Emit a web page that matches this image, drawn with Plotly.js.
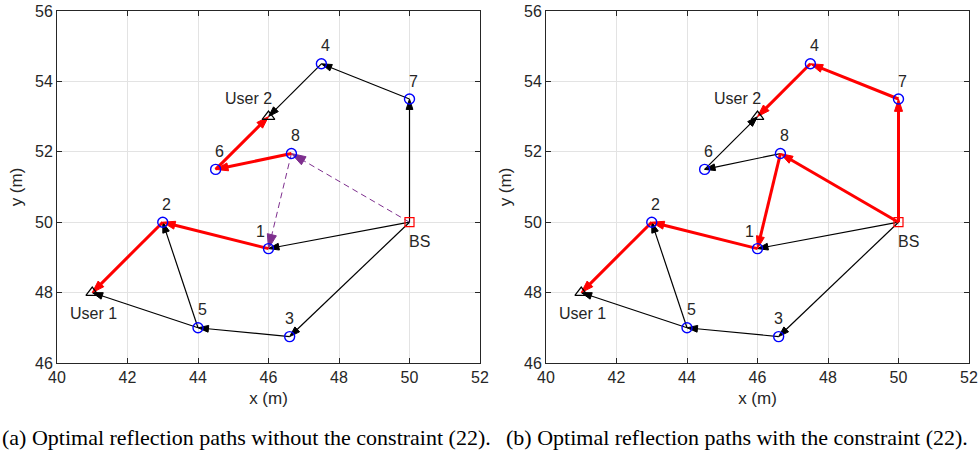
<!DOCTYPE html>
<html>
<head>
<meta charset="utf-8">
<script src="https://cdn.plot.ly/plotly-3.0.1.min.js"></script>
<style>html,body{margin:0;padding:0;background:#fff;}#chart{width:979px;height:452px;}</style>
</head>
<body>
<div id="chart"></div>
<script>
// ---- data ----
const nodeIds = ['1', '2', '3', '4', '5', '6', '7', '8'];
const nodeX = [46, 43, 46.6, 47.5, 44, 44.5, 50, 46.65];
const nodeY = [49.25, 50, 46.75, 54.5, 47, 51.5, 53.5, 51.95];
const bsX = [50];
const bsY = [50];
const userIds = ['U1', 'U2'];
const userNames = ['User 1', 'User 2'];
const userX = [41, 46];
const userY = [48, 53];

// segments (from -> to)
const segFrom = ['BS', '1', '2', 'BS', '3', '5', '5', 'BS', '7', '4', '8', '6', 'BS', '8'];
const segTo   = ['1', '2', 'U1', '3', '5', 'U1', '2', '7', '4', 'U2', '6', 'U2', '8', '1'];
// k = black path, r = optimal (red), d = dashed purple
const styleA = ['k', 'r', 'r', 'k', 'k', 'k', 'k', 'k', 'k', 'k', 'r', 'r', 'd', 'd'];
const styleB = ['k', 'r', 'r', 'k', 'k', 'k', 'k', 'r', 'r', 'r', 'k', 'k', 'r', 'r'];

const xTicks = [40, 42, 44, 46, 48, 50, 52];
const yTicks = [46, 48, 50, 52, 54, 56];
const captions = ['(a) Optimal reflection paths without the constraint (22).',
                  '(b) Optimal reflection paths with the constraint (22).'];

// ---- helpers ----
function pos(id) {
  if (id === 'BS') return [bsX[0], bsY[0]];
  let i = nodeIds.indexOf(id);
  if (i >= 0) return [nodeX[i], nodeY[i]];
  i = userIds.indexOf(id);
  return [userX[i], userY[i]];
}
const STY = {
  k: {color: '#000000', width: 1.2, dash: 'solid', head: 11},
  r: {color: '#ff0000', width: 3, dash: 'solid', head: 13},
  d: {color: '#7E2F8E', width: 1, dash: '6px,4px', head: 15}
};
const FONT = 'Liberation Sans, Arial, Helvetica, sans-serif';
const TXT = '#262626';

const traces = [];
const annotations = [];

function buildPanel(styles, xa, ya) {
  const xr = xa;
  const yr = ya;
  ['k', 'd', 'r'].forEach(function (kind) {
    for (let i = 0; i < segFrom.length; i++) {
      if (styles[i] !== kind) continue;
      const a = pos(segFrom[i]), b = pos(segTo[i]);
      const s = STY[kind];
      traces.push({
        type: 'scatter', mode: 'lines+markers', xaxis: xr, yaxis: yr,
        x: [a[0], b[0]], y: [a[1], b[1]],
        line: {color: s.color, width: s.width, dash: s.dash},
        marker: {symbol: ['circle', 'arrow'], size: [0, s.head], color: s.color, opacity: 1,
                 angleref: 'previous', line: {width: [0, 1], color: s.color}},
        hoverinfo: 'skip', showlegend: false
      });
    }
  });
  traces.push({
    type: 'scatter', mode: 'markers', xaxis: xr, yaxis: yr,
    x: nodeX, y: nodeY,
    marker: {symbol: 'circle-open', size: 10, color: '#0000ff', line: {width: 1.4}},
    hoverinfo: 'skip', showlegend: false
  });
  traces.push({
    type: 'scatter', mode: 'markers', xaxis: xr, yaxis: yr,
    x: bsX, y: bsY,
    marker: {symbol: 'square-open', size: 9, color: '#ff0000', line: {width: 1.2}},
    hoverinfo: 'skip', showlegend: false
  });
  traces.push({
    type: 'scatter', mode: 'markers', xaxis: xr, yaxis: yr,
    x: userX, y: userY,
    marker: {symbol: 'triangle-up-open', size: 11, color: '#000000', line: {width: 1.2}},
    hoverinfo: 'skip', showlegend: false
  });
  const shifts = {'1': [-8, 17], '3': [0, 18]};
  for (let i = 0; i < nodeIds.length; i++) {
    const sh = shifts[nodeIds[i]] || [4, 18];
    annotations.push({xref: xr, yref: yr, x: nodeX[i], y: nodeY[i], text: nodeIds[i],
      showarrow: false, xshift: sh[0], yshift: sh[1],
      font: {family: FONT, size: 16, color: TXT}});
  }
  annotations.push({xref: xr, yref: yr, x: bsX[0], y: bsY[0], text: 'BS',
    showarrow: false, xshift: 10, yshift: -19, font: {family: FONT, size: 16, color: TXT}});
  annotations.push({xref: xr, yref: yr, x: userX[0], y: userY[0], text: userNames[0],
    showarrow: false, xshift: 1, yshift: -21, font: {family: FONT, size: 16, color: TXT}});
  annotations.push({xref: xr, yref: yr, x: userX[1], y: userY[1], text: userNames[1],
    showarrow: false, xshift: -20, yshift: 18, font: {family: FONT, size: 16, color: TXT}});
}

buildPanel(styleA, 'x', 'y');
buildPanel(styleB, 'x2', 'y2');

captions.forEach(function (c, i) {
  annotations.push({xref: 'paper', yref: 'paper', x: i === 0 ? 246 / 979 : 737 / 979,
    y: 1 - 437 / 452, xanchor: 'center', yanchor: 'middle', text: c, showarrow: false,
    font: {family: 'Liberation Serif, Times New Roman, serif', size: 22, color: '#000'}});
});

function xAxis(dom, anchor) {
  return {domain: dom, anchor: anchor, range: [40, 52], tickvals: xTicks, ticktext: xTicks.map(String),
    showgrid: true, gridcolor: '#e3e3e3', gridwidth: 1, zeroline: false,
    showline: true, linecolor: TXT, linewidth: 1, mirror: 'ticks',
    ticks: 'inside', ticklen: 5, tickcolor: TXT, tickwidth: 1,
    tickfont: {family: FONT, size: 16, color: TXT},
    title: {text: 'x (m)', font: {family: FONT, size: 17, color: TXT}, standoff: 6}};
}
function yAxis(dom, anchor) {
  return {domain: dom, anchor: anchor, range: [46, 56], tickvals: yTicks, ticktext: yTicks.map(String),
    showgrid: true, gridcolor: '#e3e3e3', gridwidth: 1, zeroline: false,
    showline: true, linecolor: TXT, linewidth: 1, mirror: 'ticks',
    ticks: 'inside', ticklen: 5, tickcolor: TXT, tickwidth: 1,
    tickfont: {family: FONT, size: 16, color: TXT},
    title: {text: 'y (m)', font: {family: FONT, size: 17, color: TXT}, standoff: 8}};
}
const yDom = [1 - 363 / 452, 1 - 11 / 452];
const layout = {
  width: 979, height: 452,
  margin: {l: 0, r: 0, t: 0, b: 0},
  paper_bgcolor: '#ffffff', plot_bgcolor: '#ffffff',
  showlegend: false,
  xaxis: xAxis([57 / 979, 480 / 979], 'y'),
  yaxis: yAxis(yDom, 'x'),
  xaxis2: xAxis([546 / 979, 969 / 979], 'y2'),
  yaxis2: yAxis(yDom, 'x2'),
  annotations: annotations
};
Plotly.newPlot('chart', traces, layout, {displayModeBar: false, staticPlot: true});
</script>
</body>
</html>
